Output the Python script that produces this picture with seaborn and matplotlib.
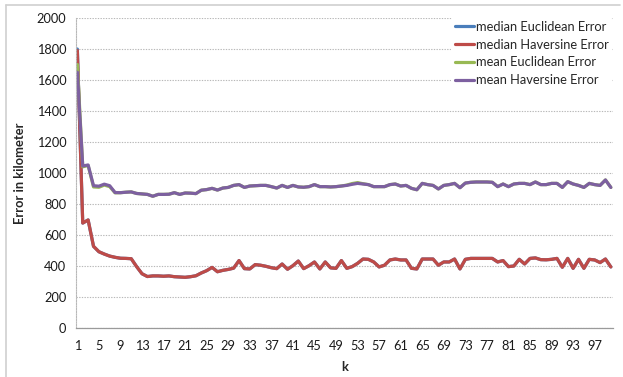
import matplotlib
matplotlib.use("Agg")
import matplotlib.pyplot as plt
from matplotlib.lines import Line2D
import numpy as np
import pandas as pd
import seaborn as sns

# k values (number of neighbours)
k_values = list(range(1, 101))

median_euclidean = [
    1800, 677, 697, 527, 492, 477, 464, 456, 450, 449,
    447, 396, 350, 332, 336, 336, 334, 336, 331, 329,
    327, 331, 337, 355, 370, 391, 363, 372, 378, 386,
    435, 383, 381, 409, 405, 398, 389, 383, 413, 379,
    402, 432, 383, 402, 426, 381, 426, 388, 385, 435,
    385, 396, 417, 445, 443, 426, 394, 405, 439, 445,
    439, 439, 385, 381, 445, 445, 445, 405, 426, 426,
    445, 381, 443, 449, 449, 449, 449, 449, 426, 435,
    396, 400, 443, 413, 449, 452, 441, 440, 443, 449,
    392, 449, 385, 443, 385, 443, 439, 422, 445, 394,
]

median_haversine = [
    1790, 677, 697, 527, 492, 477, 464, 456, 450, 449,
    447, 396, 350, 332, 336, 336, 334, 336, 331, 329,
    327, 331, 337, 355, 370, 391, 363, 372, 378, 386,
    435, 383, 381, 409, 405, 398, 389, 383, 413, 379,
    402, 432, 383, 402, 426, 381, 426, 388, 385, 435,
    385, 396, 417, 445, 443, 426, 394, 405, 439, 445,
    439, 439, 385, 381, 445, 445, 445, 405, 426, 426,
    445, 381, 443, 449, 449, 449, 449, 449, 426, 435,
    396, 400, 443, 413, 449, 452, 441, 440, 443, 449,
    392, 449, 385, 443, 385, 443, 439, 422, 445, 394,
]

mean_euclidean = [
    1700, 1040, 1048, 910, 908, 922, 912, 872, 873, 876,
    878, 868, 865, 862, 850, 862, 862, 863, 873, 862,
    871, 870, 867, 889, 893, 901, 890, 903, 907, 920,
    925, 907, 916, 918, 920, 920, 912, 903, 920, 907,
    920, 910, 908, 912, 925, 912, 912, 910, 912, 916,
    922, 932, 938, 931, 925, 912, 912, 912, 925, 929,
    916, 920, 901, 892, 933, 925, 920, 897, 920, 925,
    933, 905, 935, 940, 942, 942, 942, 940, 912, 929,
    912, 929, 933, 933, 925, 942, 925, 925, 933, 933,
    907, 944, 929, 920, 907, 933, 925, 920, 955, 907,
]

mean_haversine = [
    1650, 1045, 1052, 918, 915, 928, 918, 874, 873, 876,
    878, 868, 865, 862, 850, 862, 862, 863, 873, 862,
    871, 870, 867, 889, 893, 901, 890, 903, 907, 920,
    925, 907, 916, 918, 920, 920, 912, 903, 920, 907,
    920, 910, 908, 912, 925, 912, 912, 910, 912, 916,
    920, 927, 933, 929, 925, 912, 912, 912, 925, 929,
    916, 920, 901, 892, 933, 925, 920, 897, 920, 925,
    933, 905, 935, 940, 942, 942, 942, 940, 912, 929,
    912, 929, 933, 933, 925, 942, 925, 925, 933, 933,
    907, 944, 929, 920, 907, 933, 925, 920, 955, 907,
]

series_names = [
    "median Euclidean Error",
    "median Haversine Error",
    "mean Euclidean Error",
    "mean Haversine Error",
]
series_values = [median_euclidean, median_haversine, mean_euclidean, mean_haversine]
series_colors = ["#4A7EBB", "#BE4B48", "#98B954", "#7D60A0"]

y_ticks = list(range(0, 2001, 200))
x_tick_labels = list(range(1, 101, 4))

df = pd.concat(
    [pd.DataFrame({"k": k_values, "error": vals, "series": name})
     for name, vals in zip(series_names, series_values)],
    ignore_index=True,
)

sns.set_style("white")
plt.rcParams["font.family"] = ["Lato", "DejaVu Sans"]

fig = plt.figure(figsize=(6.23, 3.77), dpi=100)
ax = fig.add_axes([76 / 623, 49 / 377, 537 / 623, 310 / 377])

sns.lineplot(
    data=df, x="k", y="error", hue="series", hue_order=series_names,
    palette=series_colors, linewidth=2.3, ax=ax, legend=False,
)

ax.set_xlim(0.75, 100.4)
ax.set_ylim(0, 2000)
ax.set_yticks(y_ticks)
ax.set_xticks(k_values, minor=True)
ax.set_xticks(x_tick_labels)
ax.set_xticklabels([str(v) for v in x_tick_labels])

grid_color = "#B8B8B8"
ax.yaxis.grid(True, linestyle=(0, (1.2, 1.2)), color=grid_color, linewidth=0.8)
ax.set_axisbelow(True)

for side in ("top", "right"):
    ax.spines[side].set_visible(False)
ax.spines["left"].set_color(grid_color)
ax.spines["left"].set_linestyle((0, (1.2, 1.2)))
ax.spines["left"].set_linewidth(0.8)
ax.spines["bottom"].set_color("#9A9A9A")
ax.spines["bottom"].set_linewidth(0.9)

ax.tick_params(axis="y", which="major", length=4, width=0.8, color=grid_color,
               labelsize=9.2, labelcolor="#1A1A1A", pad=3)
ax.tick_params(axis="x", which="both", length=4, width=0.7, color="#9A9A9A",
               labelsize=9.2, labelcolor="#1A1A1A", pad=5, direction="out")

ax.set_xlabel("k", fontsize=9.3, fontweight="bold", labelpad=6)
ax.set_ylabel("Error in kilometer", fontsize=9.3, fontweight="bold", labelpad=8)

handles = [Line2D([0], [0], color=c, linewidth=2.3) for c in series_colors]
leg = ax.legend(
    handles, series_names, loc="upper left",
    bbox_to_anchor=(451 / 623, 1 - 17 / 377), bbox_transform=fig.transFigure,
    frameon=True, fontsize=9.3, handlelength=1.45, handletextpad=0.15,
    labelspacing=0.45, borderpad=0.3, borderaxespad=0,
)
leg.get_frame().set_facecolor("white")
leg.get_frame().set_edgecolor("none")
leg.get_frame().set_alpha(1)

# chart area border
border = "#D0D0D0"
fig.add_artist(Line2D([6 / 623, 6 / 623], [0, 1 - 5 / 377], transform=fig.transFigure,
                      color=border, linewidth=1.2))
fig.add_artist(Line2D([6 / 623, 620 / 623], [1 - 5 / 377, 1 - 5 / 377],
                      transform=fig.transFigure, color=border, linewidth=1.2))

fig.savefig("out.png", dpi=100)
